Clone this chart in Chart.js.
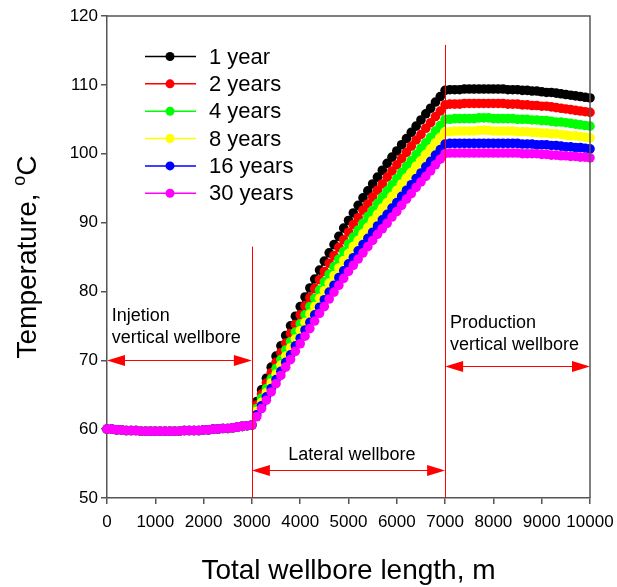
<!DOCTYPE html>
<html>
<head>
<meta charset="utf-8">
<script src="https://cdn.jsdelivr.net/npm/chart.js@4.4.1/dist/chart.umd.min.js"></script>
<style>
  html, body { margin: 0; padding: 0; background: #fff; }
  canvas { display: block; }
</style>
</head>
<body>
<canvas id="tempChart" width="617" height="587"></canvas>
<script>
// distance along the wellbore, m
const lengths = [
  0, 100, 200, 300, 400, 500, 600, 700, 800, 900,
  1000, 1100, 1200, 1300, 1400, 1500, 1600, 1700, 1800, 1900,
  2000, 2100, 2200, 2300, 2400, 2500, 2600, 2700, 2800, 2900,
  3000, 3100, 3200, 3300, 3400, 3500, 3600, 3700, 3800, 3900,
  4000, 4100, 4200, 4300, 4400, 4500, 4600, 4700, 4800, 4900,
  5000, 5100, 5200, 5300, 5400, 5500, 5600, 5700, 5800, 5900,
  6000, 6100, 6200, 6300, 6400, 6500, 6600, 6700, 6800, 6900,
  7000, 7100, 7200, 7300, 7400, 7500, 7600, 7700, 7800, 7900,
  8000, 8100, 8200, 8300, 8400, 8500, 8600, 8700, 8800, 8900,
  9000, 9100, 9200, 9300, 9400, 9500, 9600, 9700, 9800, 9900,
  10000
];

// injection well, 0-3000 m (same for every year)
const injection = [
  60.0, 60.0, 59.9, 59.9, 59.8, 59.8, 59.8, 59.7, 59.7, 59.7,
  59.7, 59.7, 59.7, 59.7, 59.7, 59.7, 59.8, 59.8, 59.8, 59.8,
  59.9, 59.9, 60.0, 60.0, 60.1, 60.1, 60.2, 60.3, 60.4, 60.5,
  60.6
];

// lateral section, 3100-7000 m
const lateral1 = [
  64.0, 65.7, 67.4, 69.0, 70.6, 72.1, 73.6, 75.0, 76.4, 77.8,
  79.2, 80.5, 81.8, 83.1, 84.4, 85.6, 86.8, 88.0, 89.2, 90.3,
  91.4, 92.5, 93.6, 94.6, 95.6, 96.6, 97.6, 98.6, 99.5, 100.4,
  101.3, 102.2, 103.1, 104.0, 104.9, 105.8, 106.6, 107.5, 108.3, 109.2
];
const lateral2 = [
  63.5, 65.1, 66.7, 68.2, 69.7, 71.1, 72.5, 73.9, 75.2, 76.6,
  77.9, 79.1, 80.4, 81.7, 82.9, 84.1, 85.2, 86.4, 87.5, 88.6,
  89.7, 90.7, 91.8, 92.7, 93.7, 94.7, 95.6, 96.6, 97.5, 98.4,
  99.3, 100.2, 101.1, 102.0, 102.8, 103.7, 104.5, 105.4, 106.2, 107.1
];
const lateral4 = [
  63.0, 64.5, 65.9, 67.3, 68.8, 70.1, 71.5, 72.7, 74.1, 75.3,
  76.6, 77.8, 79.0, 80.2, 81.4, 82.5, 83.6, 84.7, 85.8, 86.9,
  87.9, 88.9, 89.9, 90.9, 91.8, 92.8, 93.7, 94.6, 95.5, 96.4,
  97.3, 98.2, 99.0, 99.9, 100.8, 101.6, 102.4, 103.3, 104.1, 105.0
];
const lateral8 = [
  62.6, 63.9, 65.3, 66.7, 68.0, 69.3, 70.6, 71.8, 73.1, 74.3,
  75.5, 76.7, 77.8, 79.0, 80.1, 81.2, 82.3, 83.4, 84.5, 85.5,
  86.5, 87.4, 88.4, 89.3, 90.3, 91.2, 92.1, 92.9, 93.8, 94.7,
  95.6, 96.5, 97.3, 98.2, 99.0, 99.9, 100.7, 101.6, 102.4, 103.2
];
const lateral16 = [
  62.1, 63.4, 64.7, 65.9, 67.2, 68.4, 69.7, 70.8, 72.1, 73.2,
  74.4, 75.5, 76.6, 77.7, 78.8, 79.9, 80.9, 82.0, 83.0, 84.0,
  84.9, 85.9, 86.8, 87.7, 88.6, 89.5, 90.4, 91.2, 92.1, 92.9,
  93.8, 94.7, 95.5, 96.4, 97.2, 98.1, 98.9, 99.8, 100.6, 101.4
];
const lateral30 = [
  61.8, 63.0, 64.2, 65.4, 66.6, 67.8, 69.0, 70.1, 71.3, 72.4,
  73.5, 74.6, 75.7, 76.8, 77.8, 78.9, 79.9, 80.9, 81.9, 82.9,
  83.8, 84.7, 85.6, 86.5, 87.4, 88.3, 89.1, 89.9, 90.8, 91.6,
  92.5, 93.4, 94.2, 95.1, 95.9, 96.7, 97.5, 98.4, 99.2, 100.0
];

// production well, 7100-10000 m
const production1 = [
  109.3, 109.3, 109.3, 109.4, 109.4, 109.4, 109.4, 109.4, 109.4, 109.4,
  109.4, 109.4, 109.3, 109.3, 109.3, 109.2, 109.2, 109.1, 109.1, 109.0,
  108.9, 108.9, 108.8, 108.7, 108.6, 108.5, 108.4, 108.3, 108.2, 108.1
];
const production2 = [
  107.2, 107.2, 107.2, 107.3, 107.3, 107.3, 107.3, 107.3, 107.3, 107.3,
  107.3, 107.3, 107.2, 107.2, 107.2, 107.1, 107.1, 107.0, 107.0, 106.9,
  106.9, 106.8, 106.7, 106.6, 106.5, 106.4, 106.3, 106.2, 106.1, 106.0
];
const production4 = [
  105.0, 105.1, 105.1, 105.1, 105.1, 105.1, 105.2, 105.2, 105.2, 105.1,
  105.1, 105.1, 105.1, 105.1, 105.0, 105.0, 105.0, 104.9, 104.9, 104.8,
  104.8, 104.7, 104.6, 104.6, 104.5, 104.4, 104.3, 104.2, 104.1, 104.0
];
const production8 = [
  103.2, 103.3, 103.3, 103.3, 103.3, 103.3, 103.4, 103.4, 103.4, 103.3,
  103.3, 103.3, 103.3, 103.3, 103.2, 103.2, 103.2, 103.1, 103.1, 103.0,
  103.0, 102.9, 102.9, 102.8, 102.7, 102.6, 102.6, 102.5, 102.4, 102.3
];
const production16 = [
  101.5, 101.5, 101.5, 101.5, 101.5, 101.5, 101.5, 101.5, 101.5, 101.5,
  101.5, 101.5, 101.5, 101.5, 101.5, 101.4, 101.4, 101.4, 101.3, 101.3,
  101.3, 101.2, 101.2, 101.1, 101.0, 101.0, 100.9, 100.9, 100.8, 100.7
];
const production30 = [
  100.1, 100.1, 100.1, 100.1, 100.1, 100.1, 100.1, 100.1, 100.1, 100.1,
  100.1, 100.1, 100.1, 100.1, 100.1, 100.0, 100.0, 100.0, 100.0, 99.9,
  99.9, 99.8, 99.8, 99.7, 99.7, 99.6, 99.6, 99.5, 99.5, 99.4
];

const seriesNames = ['1 year', '2 years', '4 years', '8 years', '16 years', '30 years'];
const seriesColors = ['#000000', '#ff0000', '#00ff00', '#ffff00', '#0000ff', '#ff00ff'];
const seriesValues = [
  injection.concat(lateral1, production1),
  injection.concat(lateral2, production2),
  injection.concat(lateral4, production4),
  injection.concat(lateral8, production8),
  injection.concat(lateral16, production16),
  injection.concat(lateral30, production30)
];

const yTicks = [50, 60, 70, 80, 90, 100, 110, 120];

const FONT = "'Liberation Sans', Arial, sans-serif";
const axisColor = '#555555';

// section markers and their captions, in data units
const notes = {
  bounds: [{ x: 3000, top: 86.5 }, { x: 7000, top: 115.8 }],
  arrows: [
    { from: 0, to: 3000, y: 70 },
    { from: 3000, to: 7000, y: 54 },
    { from: 7000, to: 10000, y: 69.1 }
  ],
  texts: [
    { text: 'Injetion', x: 100, y: 76.4, align: 'left' },
    { text: 'vertical wellbore', x: 100, y: 73.2, align: 'left' },
    { text: 'Lateral wellbore', x: 5070, y: 56.2, align: 'center' },
    { text: 'Production', x: 7100, y: 75.4, align: 'left' },
    { text: 'vertical wellbore', x: 7100, y: 72.2, align: 'left' }
  ]
};

function drawArrowHead(ctx, tipX, y, dir) {
  const len = 18, half = 5.5;
  ctx.beginPath();
  ctx.moveTo(tipX, y);
  ctx.lineTo(tipX - dir * len, y - half);
  ctx.lineTo(tipX - dir * len, y + half);
  ctx.closePath();
  ctx.fill();
}

const sectionNotes = {
  id: 'sectionNotes',
  afterDatasetsDraw(chart) {
    const { ctx, chartArea: a, scales: { x, y } } = chart;
    ctx.save();

    // top and right edges of the frame
    ctx.strokeStyle = axisColor;
    ctx.lineWidth = 1.5;
    ctx.beginPath();
    ctx.moveTo(a.left, a.top);
    ctx.lineTo(a.right, a.top);
    ctx.lineTo(a.right, a.bottom);
    ctx.stroke();

    ctx.strokeStyle = '#ff0000';
    ctx.fillStyle = '#ff0000';
    ctx.lineWidth = 1;
    notes.bounds.forEach(b => {
      const px = Math.round(x.getPixelForValue(b.x)) + 0.5;
      ctx.beginPath();
      ctx.moveTo(px, y.getPixelForValue(b.top));
      ctx.lineTo(px, a.bottom);
      ctx.stroke();
    });

    notes.arrows.forEach(ar => {
      const x1 = x.getPixelForValue(ar.from);
      const x2 = x.getPixelForValue(ar.to);
      const py = Math.round(y.getPixelForValue(ar.y)) + 0.5;
      ctx.beginPath();
      ctx.moveTo(x1 + 10, py);
      ctx.lineTo(x2 - 10, py);
      ctx.stroke();
      drawArrowHead(ctx, x1, py, -1);
      drawArrowHead(ctx, x2, py, 1);
    });

    ctx.fillStyle = '#000';
    ctx.font = '18px ' + FONT;
    ctx.textBaseline = 'middle';
    notes.texts.forEach(t => {
      ctx.textAlign = t.align;
      ctx.fillText(t.text, x.getPixelForValue(t.x), y.getPixelForValue(t.y));
    });
    ctx.restore();
  },
  afterDraw(chart) {
    const { ctx, chartArea: a } = chart;
    ctx.save();

    // legend, top left inside the plot
    ctx.font = '22px ' + FONT;
    ctx.textAlign = 'left';
    ctx.textBaseline = 'middle';
    seriesNames.forEach((name, i) => {
      const ry = a.top + 40.5 + i * 27.35;
      ctx.strokeStyle = seriesColors[i];
      ctx.fillStyle = seriesColors[i];
      ctx.lineWidth = 1.5;
      ctx.beginPath();
      ctx.moveTo(a.left + 38, ry);
      ctx.lineTo(a.left + 89, ry);
      ctx.stroke();
      ctx.beginPath();
      ctx.arc(a.left + 63, ry, 4.5, 0, Math.PI * 2);
      ctx.fill();
      ctx.fillStyle = '#000';
      ctx.fillText(name, a.left + 102, ry + 1);
    });

    // axis titles
    ctx.fillStyle = '#000';
    ctx.font = '28px ' + FONT;
    ctx.textAlign = 'center';
    ctx.fillText('Total wellbore length, m', (a.left + a.right) / 2, a.bottom + 73);

    // "Temperature, oC" with a raised o, read bottom to top
    const main = 'Temperature, ';
    ctx.font = '28px ' + FONT;
    const wMain = ctx.measureText(main).width;
    const wC = ctx.measureText('C').width;
    ctx.font = '18px ' + FONT;
    const wO = ctx.measureText('o').width;
    const total = wMain + wO + wC;
    ctx.translate(26, (a.top + a.bottom) / 2);
    ctx.rotate(-Math.PI / 2);
    ctx.textAlign = 'left';
    ctx.textBaseline = 'alphabetic';
    let cx = -total / 2;
    ctx.font = '28px ' + FONT;
    ctx.fillText(main, cx, 10);
    cx += wMain;
    ctx.font = '18px ' + FONT;
    ctx.fillText('o', cx, -1);
    cx += wO;
    ctx.font = '28px ' + FONT;
    ctx.fillText('C', cx, 10);
    ctx.restore();
  }
};

new Chart(document.getElementById('tempChart'), {
  type: 'line',
  data: {
    labels: lengths,
    datasets: seriesValues.map((vals, i) => ({
      label: seriesNames[i],
      data: vals,
      borderColor: seriesColors[i],
      backgroundColor: seriesColors[i],
      pointBackgroundColor: seriesColors[i],
      borderWidth: 1.5,
      pointRadius: 4.8,
      pointBorderWidth: 0,
      pointHoverRadius: 4.8,
      tension: 0,
      clip: false,
      order: seriesNames.length - i
    }))
  },
  options: {
    responsive: false,
    animation: false,
    devicePixelRatio: 1,
    layout: { padding: { top: 16, right: 27, left: 0, bottom: 0 } },
    plugins: {
      legend: { display: false },
      tooltip: { enabled: false }
    },
    scales: {
      x: {
        type: 'linear',
        min: 0,
        max: 10000,
        ticks: {
          stepSize: 1000,
          autoSkip: false,
          maxRotation: 0,
          padding: 8,
          color: '#000',
          font: { family: FONT, size: 17 },
          callback: v => String(v)
        },
        grid: { drawOnChartArea: false, tickLength: 6, color: axisColor, lineWidth: 1.5 },
        border: { color: axisColor, width: 1.5 },
        afterFit(s) { s.height = 89; s.paddingLeft = 0; s.paddingRight = 0; }
      },
      y: {
        min: 50,
        max: 120,
        afterBuildTicks(s) { s.ticks = yTicks.map(v => ({ value: v })); },
        ticks: {
          padding: 3,
          color: '#000',
          font: { family: FONT, size: 17 }
        },
        grid: { drawOnChartArea: false, tickLength: 6, color: axisColor, lineWidth: 1.5 },
        border: { color: axisColor, width: 1.5 },
        afterFit(s) { s.width = 107; s.paddingTop = 0; s.paddingBottom = 0; }
      }
    }
  },
  plugins: [sectionNotes]
});
</script>
</body>
</html>
